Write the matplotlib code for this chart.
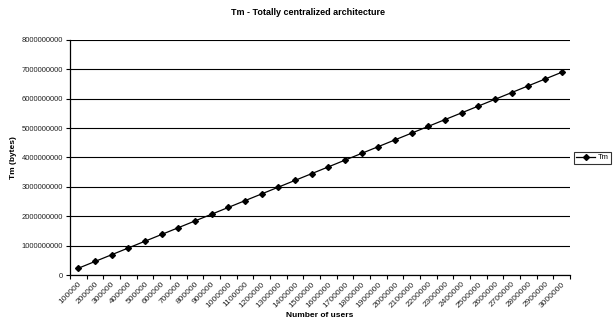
import matplotlib
matplotlib.use("Agg")
import matplotlib.pyplot as plt
from matplotlib.ticker import FixedLocator, NullFormatter

plt.rcParams['font.family'] = ['Liberation Sans', 'DejaVu Sans']

# number of users per category
users = ['100000', '200000', '300000', '400000', '500000', '600000', '700000',
         '800000', '900000', '1000000', '1100000', '1200000', '1300000',
         '1400000', '1500000', '1600000', '1700000', '1800000', '1900000',
         '2000000', '2100000', '2200000', '2300000', '2400000', '2500000',
         '2600000', '2700000', '2800000', '2900000', '3000000']

# Tm in bytes
tm_bytes = [230000000, 460000000, 690000000, 920000000, 1150000000,
            1380000000, 1610000000, 1840000000, 2070000000, 2300000000,
            2530000000, 2760000000, 2990000000, 3220000000, 3450000000,
            3680000000, 3910000000, 4140000000, 4370000000, 4600000000,
            4830000000, 5060000000, 5290000000, 5520000000, 5750000000,
            5980000000, 6210000000, 6440000000, 6670000000, 6900000000]

y_ticks = [0, 1000000000, 2000000000, 3000000000, 4000000000,
           5000000000, 6000000000, 7000000000, 8000000000]

fig = plt.figure(figsize=(6.16, 3.23), dpi=100)
ax = fig.add_axes([0.1136, 0.1486, 0.8117, 0.7276])

x = list(range(len(users)))
line, = ax.plot(x, tm_bytes, color='black', lw=0.9, marker='D', markersize=3,
                label='Tm')

ax.set_xlim(-0.5, len(users) - 0.5)
ax.set_ylim(0, 8000000000)

ax.set_yticks(y_ticks)
ax.set_yticklabels([str(v) for v in y_ticks], fontsize=5.5, color='#222222')
ax.yaxis.grid(True, color='black', lw=0.8)
ax.set_axisbelow(True)

# labels sit at category centres, tick marks at category boundaries
ax.set_xticks(x)
ax.set_xticklabels(users, fontsize=6, rotation=45, ha='right',
                   rotation_mode='anchor', color='#222222')
ax.tick_params(axis='x', which='major', length=0, pad=4)
ax.xaxis.set_minor_locator(FixedLocator([i - 0.5 for i in range(len(users) + 1)]))
ax.xaxis.set_minor_formatter(NullFormatter())
ax.tick_params(axis='x', which='minor', length=3, width=0.8, direction='out')
ax.tick_params(axis='y', length=3, width=0.8, direction='out', pad=2)

for side in ('top', 'right'):
    ax.spines[side].set_visible(False)
for side in ('left', 'bottom'):
    ax.spines[side].set_linewidth(0.9)

fig.text(0.5, 0.96, 'Tm - Totally centralized architecture', fontsize=6.5,
         fontweight='bold', ha='center', va='center')
ax.set_xlabel('Number of users', fontsize=6, fontweight='bold', labelpad=2)
ax.set_ylabel('Tm (bytes)', fontsize=6, fontweight='bold', labelpad=3)

leg = fig.legend(handles=[line], loc='center', bbox_to_anchor=(0.962, 0.512),
                 fontsize=5.5, frameon=True, fancybox=False, handlelength=2.5,
                 borderpad=0.3, handletextpad=0.4)
leg.get_frame().set_edgecolor('black')
leg.get_frame().set_linewidth(0.8)

fig.savefig('out.png', dpi=100)
